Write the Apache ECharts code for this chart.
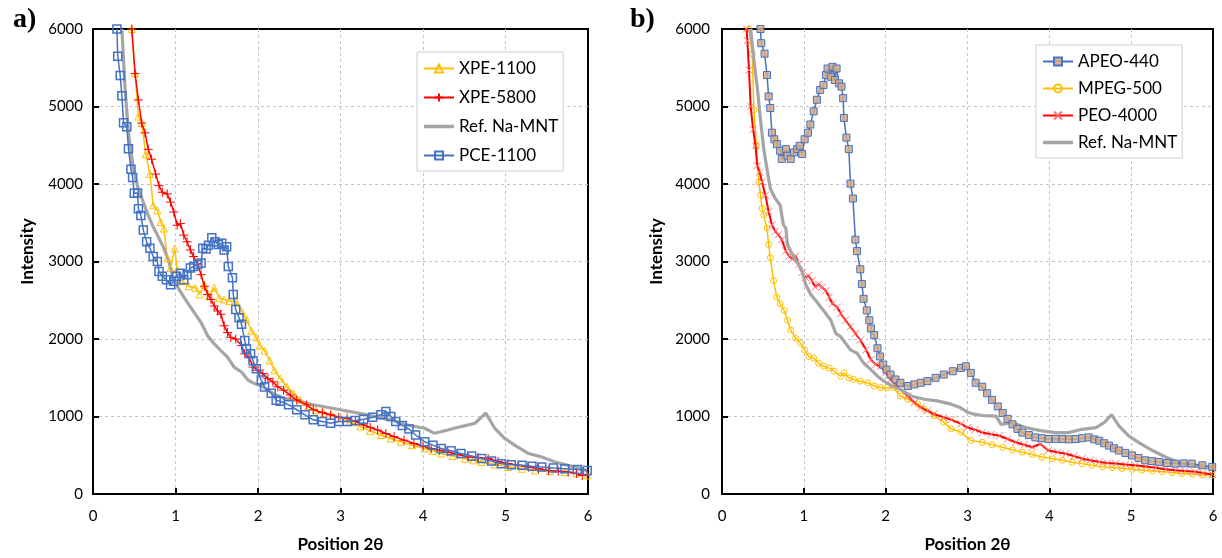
<!DOCTYPE html>
<html>
<head>
<meta charset="utf-8">
<script src="https://cdn.jsdelivr.net/npm/echarts@6/dist/echarts.min.js"></script>
<style>
html,body{margin:0;padding:0;background:#fff;}
#chart{width:1222px;height:558px;}
</style>
</head>
<body>
<div id="chart"></div>
<script>
// ---------- Panel a ----------
const xpe1100X = [0.47,0.51,0.55,0.59,0.64,0.69,0.73,0.78,0.82,0.86,0.90,0.94,0.99,1.02,1.08,1.16,1.24,1.29,1.35,1.41,1.47,1.53,1.59,1.65,1.73,1.80,1.86,1.92,1.98,2.02,2.08,2.14,2.20,2.27,2.35,2.43,2.51,2.61,2.70,2.80,2.90,3.00,3.12,3.24,3.36,3.49,3.61,3.73,3.87,4.02,4.12,4.22,4.36,4.51,4.61,4.71,4.87,5.03,5.20,5.36,5.54,5.72,5.86,5.99];
const xpe1100Y = [6000,5425,4870,4787,4383,4128,3723,3660,3510,3425,3043,2915,3170,2894,2745,2681,2660,2575,2702,2553,2660,2532,2510,2489,2489,2362,2255,2106,2021,1915,1851,1723,1596,1489,1383,1298,1213,1128,1080,1043,1010,978,925,870,815,761,715,674,630,587,555,522,490,457,435,413,380,348,326,304,295,283,265,239];

const xpe5800X = [0.47,0.51,0.55,0.59,0.63,0.67,0.71,0.76,0.80,0.84,0.90,0.94,0.98,1.02,1.06,1.10,1.14,1.18,1.22,1.27,1.31,1.35,1.39,1.43,1.47,1.51,1.55,1.59,1.63,1.67,1.73,1.80,1.84,1.89,1.94,2.00,2.06,2.12,2.18,2.24,2.31,2.39,2.47,2.59,2.67,2.78,2.88,2.98,3.08,3.18,3.28,3.36,3.45,3.55,3.65,3.77,3.89,4.00,4.10,4.20,4.30,4.42,4.55,4.67,4.79,4.91,5.03,5.16,5.28,5.40,5.52,5.64,5.76,5.86,5.93,5.99];
const xpe5800Y = [6000,5425,5085,4787,4660,4447,4320,4128,3979,3894,3872,3766,3638,3468,3489,3340,3255,3149,3064,2957,2830,2681,2574,2511,2426,2362,2319,2170,2085,2021,2000,1915,1809,1766,1638,1596,1553,1489,1447,1383,1340,1277,1213,1149,1087,1050,1022,990,978,935,891,860,826,780,739,695,652,620,587,565,543,510,478,470,457,420,391,370,348,326,304,295,283,265,239,250];

const refAX = [0.35,0.39,0.43,0.49,0.55,0.61,0.67,0.73,0.80,0.86,0.92,0.96,1.01,1.08,1.16,1.24,1.31,1.39,1.47,1.55,1.63,1.71,1.80,1.88,1.96,2.06,2.18,2.31,2.43,2.67,3.00,3.28,3.61,3.81,4.02,4.14,4.30,4.46,4.63,4.76,4.87,4.99,5.11,5.28,5.44,5.60,5.76,5.99];
const refAY = [6000,5210,4660,4190,3935,3765,3595,3447,3300,3170,3000,2830,2700,2575,2447,2320,2213,2043,1936,1851,1766,1638,1574,1468,1425,1383,1298,1234,1217,1152,1087,1030,957,891,848,783,826,870,913,1043,848,717,630,522,478,413,370,304];

const pce1100X = [0.29,0.30,0.33,0.35,0.37,0.41,0.43,0.46,0.48,0.50,0.54,0.55,0.58,0.61,0.65,0.69,0.73,0.78,0.80,0.84,0.89,0.94,0.98,1.01,1.06,1.10,1.14,1.18,1.22,1.27,1.31,1.33,1.37,1.40,1.44,1.48,1.52,1.56,1.59,1.62,1.64,1.69,1.70,1.73,1.77,1.80,1.84,1.86,1.91,1.94,1.98,2.04,2.08,2.16,2.22,2.27,2.37,2.47,2.57,2.67,2.78,2.88,2.98,3.08,3.18,3.28,3.39,3.49,3.55,3.61,3.67,3.75,3.83,3.91,4.02,4.12,4.22,4.34,4.46,4.59,4.71,4.83,4.95,5.07,5.20,5.32,5.44,5.58,5.72,5.87,5.99];
const pce1100Y = [6000,5650,5400,5140,4790,4740,4455,4190,4085,3880,3885,3680,3595,3405,3255,3170,3065,3000,2870,2810,2765,2700,2745,2810,2850,2765,2830,2915,2935,2960,2980,3170,3160,3210,3305,3255,3220,3235,3150,3190,2935,2790,2575,2380,2275,2190,1980,1870,1810,1720,1615,1470,1380,1300,1210,1196,1152,1087,1022,957,935,913,935,935,948,965,991,1022,1065,1000,935,883,839,761,674,630,587,557,522,491,457,426,391,378,370,357,348,335,326,317,304];

// ---------- Panel b ----------
const apeo440X = [0.47,0.48,0.52,0.55,0.57,0.59,0.61,0.64,0.67,0.71,0.73,0.78,0.80,0.84,0.88,0.92,0.95,0.98,1.01,1.05,1.08,1.12,1.16,1.20,1.24,1.27,1.29,1.33,1.35,1.38,1.40,1.43,1.46,1.48,1.49,1.52,1.55,1.57,1.60,1.63,1.65,1.69,1.71,1.73,1.77,1.80,1.82,1.86,1.90,1.93,1.97,2.01,2.06,2.12,2.18,2.27,2.35,2.43,2.51,2.61,2.71,2.82,2.92,2.98,3.04,3.10,3.18,3.24,3.30,3.37,3.43,3.49,3.55,3.61,3.67,3.75,3.83,3.91,3.99,4.08,4.16,4.24,4.32,4.40,4.48,4.55,4.61,4.67,4.73,4.79,4.85,4.93,5.01,5.09,5.17,5.25,5.34,5.44,5.54,5.64,5.74,5.87,5.99];
const apeo440Y = [6000,5817,5682,5406,5130,4980,4662,4577,4514,4429,4323,4450,4365,4323,4407,4450,4493,4386,4577,4662,4768,4938,5087,5214,5278,5406,5490,5384,5512,5342,5490,5299,5257,5108,4853,4599,4450,4004,3813,3282,3134,2900,2709,2518,2369,2242,2136,2051,1881,1775,1669,1605,1541,1478,1435,1393,1414,1435,1456,1499,1541,1584,1626,1648,1563,1435,1384,1300,1215,1130,1046,970,899,840,793,760,730,720,709,712,709,705,709,720,730,705,688,655,624,590,561,530,498,465,435,425,414,400,392,395,392,370,350];

const mpeg500X = [0.33,0.37,0.39,0.42,0.45,0.47,0.49,0.51,0.55,0.57,0.59,0.63,0.67,0.71,0.76,0.80,0.84,0.90,0.96,1.01,1.06,1.12,1.18,1.24,1.31,1.37,1.45,1.49,1.55,1.61,1.69,1.78,1.86,1.94,2.02,2.10,2.18,2.27,2.39,2.47,2.59,2.71,2.80,2.92,3.04,3.18,3.30,3.43,3.55,3.67,3.79,3.91,4.04,4.16,4.28,4.40,4.52,4.65,4.77,4.89,5.01,5.13,5.26,5.38,5.50,5.62,5.75,5.87,5.99];
const mpeg500Y = [6000,5682,4960,4493,4025,3856,3686,3601,3431,3219,3049,2752,2539,2454,2369,2242,2115,2009,1945,1860,1775,1754,1690,1648,1626,1584,1520,1563,1499,1478,1456,1435,1393,1372,1372,1372,1265,1223,1159,1096,1011,926,841,798,692,667,635,603,570,540,510,477,455,435,410,392,370,350,340,329,318,308,298,287,276,266,255,245,245];

const peo4000X = [0.30,0.31,0.33,0.35,0.38,0.41,0.43,0.46,0.49,0.53,0.57,0.61,0.65,0.69,0.73,0.78,0.82,0.86,0.90,0.94,0.98,1.02,1.06,1.10,1.14,1.18,1.22,1.27,1.31,1.35,1.41,1.45,1.51,1.57,1.63,1.69,1.76,1.82,1.88,1.94,2.00,2.06,2.12,2.18,2.27,2.35,2.43,2.51,2.59,2.71,2.80,2.92,3.00,3.09,3.18,3.29,3.39,3.49,3.59,3.69,3.79,3.89,3.99,4.10,4.20,4.30,4.40,4.50,4.61,4.71,4.81,4.93,5.05,5.18,5.30,5.42,5.54,5.66,5.78,5.88,5.99];
const peo4000Y = [6000,5851,5470,5002,4705,4493,4238,4153,4025,3856,3643,3473,3388,3346,3282,3134,3070,3028,3070,2964,2858,2794,2815,2752,2667,2709,2667,2624,2539,2454,2412,2327,2242,2157,2072,1987,1860,1732,1669,1648,1563,1478,1414,1350,1265,1180,1117,1074,1032,989,960,904,857,830,793,770,751,710,667,635,603,646,561,540,519,490,456,435,414,400,392,380,371,355,338,320,308,298,287,270,253];

const refBX = [0.35,0.39,0.43,0.47,0.51,0.55,0.59,0.65,0.71,0.75,0.78,0.80,0.86,0.92,0.98,1.02,1.08,1.16,1.24,1.33,1.39,1.45,1.51,1.57,1.65,1.73,1.82,1.90,1.98,2.08,2.18,2.31,2.47,2.63,2.80,2.90,3.00,3.08,3.18,3.35,3.41,3.55,3.71,3.91,4.08,4.24,4.40,4.57,4.67,4.76,4.85,4.97,5.09,5.26,5.42,5.62,5.83,5.99];
const refBY = [6000,5597,5257,4832,4450,4195,3941,3813,3728,3473,3431,3219,3091,2985,2879,2709,2582,2476,2369,2242,2072,2030,1945,1860,1817,1690,1605,1520,1456,1393,1350,1265,1223,1202,1159,1120,1055,1030,1013,1004,899,920,857,814,793,793,835,857,920,1025,878,751,667,561,477,392,350,329];

const xTicks = [0,1,2,3,4,5,6];
const yTicks = [0,1000,2000,3000,4000,5000,6000];

function zip(xs, ys){ return xs.map((x,i)=>[x, ys[i]]); }

const FONT = 'Lato, "Liberation Sans", sans-serif';
const YELLOW = '#FFC000', RED = '#FF0000', GRAY = '#A5A5A5', BLUE = '#4472C4';

function xAxisFor(gi){
  return {
    gridIndex: gi, type: 'value', min: xTicks[0], max: xTicks[xTicks.length-1], interval: 1,
    axisLine: {show: true, onZero: false, lineStyle: {color: '#000', width: 2}},
    axisTick: {show: true, inside: true, length: 6, lineStyle: {color: '#000', width: 2}},
    axisLabel: {color: '#000', fontSize: 15, fontFamily: FONT, margin: 15, formatter: v => String(v)},
    splitLine: {show: true, showMinLine: false, showMaxLine: false, lineStyle: {color: '#c4c4c4', type: [3,3], width: 1}},
    name: 'Position 2θ', nameLocation: 'middle', nameGap: 42,
    nameTextStyle: {fontSize: 17, fontWeight: 'bold', color: '#000', fontFamily: FONT}
  };
}
function yAxisFor(gi, margin){
  return {
    gridIndex: gi, type: 'value', min: yTicks[0], max: yTicks[yTicks.length-1], interval: 1000,
    axisLine: {show: true, onZero: false, lineStyle: {color: '#000', width: 2}},
    axisTick: {show: true, inside: true, length: 6, lineStyle: {color: '#000', width: 2}},
    axisLabel: {color: '#000', fontSize: 15, fontFamily: FONT, margin: margin, formatter: v => String(v)},
    splitLine: {show: true, showMinLine: false, showMaxLine: false, lineStyle: {color: '#c4c4c4', type: [3,3], width: 1}},
    name: 'Intensity', nameLocation: 'middle', nameGap: 57,
    nameTextStyle: {fontSize: 17, fontWeight: 'bold', color: '#000', fontFamily: FONT, padding: [0, 0, 0, 20]}
  };
}

const plusPath = 'path://M5,0L5,10M0,5L10,5';
const crossPath = 'path://M0,0L10,10M10,0L0,10';
const barIcon = 'path://M0,0L30,0L30,3.5L0,3.5Z';

const option = {
  animation: false,
  backgroundColor: '#fff',
  title: [
    {text: 'a)', left: 8, top: 1, textStyle: {fontFamily: '"Liberation Serif", serif', fontWeight: 'bold', fontSize: 28, color: '#000'}},
    {text: 'b)', left: 625, top: 1, textStyle: {fontFamily: '"Liberation Serif", serif', fontWeight: 'bold', fontSize: 28, color: '#000'}}
  ],
  grid: [
    {left: 93, right: 634, top: 29, bottom: 62, show: true, borderColor: '#000', borderWidth: 2},
    {left: 722, right: 9, top: 29, bottom: 59, show: true, borderColor: '#000', borderWidth: 2}
  ],
  xAxis: [xAxisFor(0), xAxisFor(1)],
  yAxis: [yAxisFor(0, 10), yAxisFor(1, 12)],
  legend: [
    {left: 417, top: 52, orient: 'vertical', borderColor: '#d0d0d0', borderWidth: 1, backgroundColor: '#fff',
     padding: [8, 5, 7, 6], itemWidth: 30, itemHeight: 10, itemGap: 12,
     textStyle: {fontSize: 17, fontFamily: FONT, color: '#000'},
     data: ['XPE-1100', 'XPE-5800', {name: 'Ref. Na-MNT', icon: barIcon}, 'PCE-1100']},
    {left: 1036, top: 45, orient: 'vertical', borderColor: '#d0d0d0', borderWidth: 1, backgroundColor: '#fff',
     padding: [8, 5, 7, 6], itemWidth: 30, itemHeight: 10, itemGap: 10,
     textStyle: {fontSize: 17, fontFamily: FONT, color: '#000'},
     data: ['APEO-440', 'MPEG-500', 'PEO-4000', {name: 'Ref. Na-MNT', icon: barIcon}]}
  ],
  series: [
    {name: 'XPE-1100', type: 'line', xAxisIndex: 0, yAxisIndex: 0, data: zip(xpe1100X, xpe1100Y),
     symbol: 'triangle', symbolSize: 7, lineStyle: {color: YELLOW, width: 1.5},
     itemStyle: {color: 'rgba(255,255,255,0)', borderColor: YELLOW, borderWidth: 1}, z: 2},
    {name: 'XPE-5800', type: 'line', xAxisIndex: 0, yAxisIndex: 0, data: zip(xpe5800X, xpe5800Y),
     symbol: plusPath, symbolSize: 9, lineStyle: {color: RED, width: 1.5},
     itemStyle: {color: RED, borderColor: RED, borderWidth: 1}, z: 3},
    {name: 'Ref. Na-MNT', type: 'line', xAxisIndex: 0, yAxisIndex: 0, data: zip(refAX, refAY),
     symbol: 'none', lineStyle: {color: GRAY, width: 3.2}, itemStyle: {color: GRAY}, z: 2},
    {name: 'PCE-1100', type: 'line', xAxisIndex: 0, yAxisIndex: 0, data: zip(pce1100X, pce1100Y),
     symbol: 'rect', symbolSize: 8, lineStyle: {color: BLUE, width: 1.5},
     itemStyle: {color: 'rgba(255,255,255,0)', borderColor: BLUE, borderWidth: 1.5}, z: 4},

    {name: 'APEO-440', type: 'line', xAxisIndex: 1, yAxisIndex: 1, data: zip(apeo440X, apeo440Y),
     symbol: 'rect', symbolSize: 7, lineStyle: {color: BLUE, width: 1.5},
     itemStyle: {color: 'rgba(214,170,130,0.85)', borderColor: BLUE, borderWidth: 1}, z: 5},
    {name: 'MPEG-500', type: 'line', xAxisIndex: 1, yAxisIndex: 1, data: zip(mpeg500X, mpeg500Y),
     symbol: 'circle', symbolSize: 6, lineStyle: {color: YELLOW, width: 1.5},
     itemStyle: {color: 'rgba(255,255,255,0)', borderColor: YELLOW, borderWidth: 1}, z: 2},
    {name: 'PEO-4000', type: 'line', xAxisIndex: 1, yAxisIndex: 1, data: zip(peo4000X, peo4000Y),
     symbol: crossPath, symbolSize: 7, lineStyle: {color: RED, width: 2},
     itemStyle: {color: '#FF7070', borderColor: '#FF7070', borderWidth: 1}, z: 3},
    {name: 'Ref. Na-MNT', type: 'line', xAxisIndex: 1, yAxisIndex: 1, data: zip(refBX, refBY),
     symbol: 'none', lineStyle: {color: GRAY, width: 3.2}, itemStyle: {color: GRAY}, z: 4}
  ]
};

const chart = echarts.init(document.getElementById('chart'), null, {renderer: 'canvas'});
chart.setOption(option);
</script>
</body>
</html>
